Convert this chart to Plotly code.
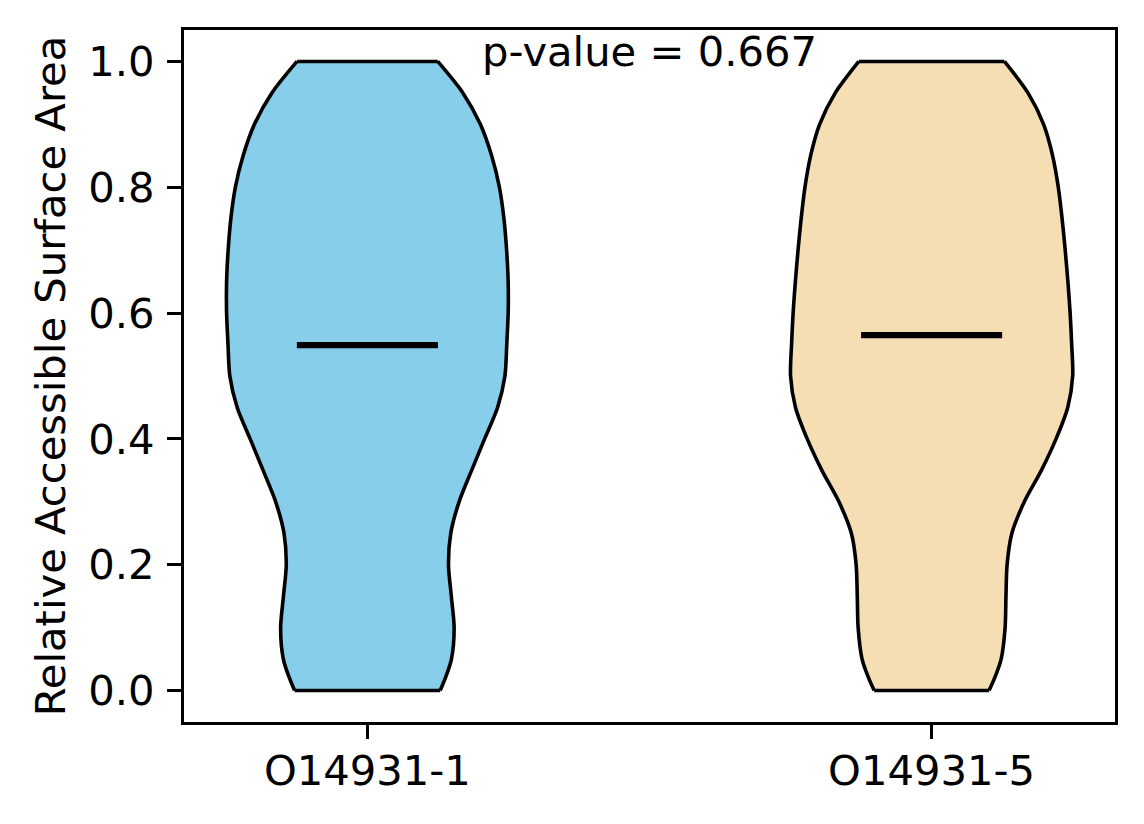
import plotly.graph_objects as go

# ---- data ----
categories = ["O14931-1", "O14931-5"]
positions = [1, 2]
medians = [0.549, 0.565]
p_value_text = "p-value = 0.667"

# y levels at which the violin density profile was read
levels = [0.00, 0.02, 0.05, 0.10, 0.15, 0.20, 0.25, 0.30, 0.35, 0.40, 0.45,
          0.50, 0.55, 0.60, 0.65, 0.70, 0.75, 0.80, 0.85, 0.90, 0.95, 1.00]
# relative density (max = 1) for each violin
density_1 = [0.516, 0.553, 0.596, 0.615, 0.595, 0.575, 0.591, 0.650, 0.739, 0.831, 0.923,
             0.975, 0.988, 0.998, 0.998, 0.987, 0.968, 0.936, 0.881, 0.801, 0.677, 0.499]
density_2 = [0.407, 0.447, 0.493, 0.521, 0.527, 0.535, 0.569, 0.657, 0.778, 0.882, 0.965,
             1.000, 0.993, 0.982, 0.966, 0.947, 0.925, 0.898, 0.858, 0.794, 0.683, 0.516]
densities = [density_1, density_2]
fill_colors = ["#87CEEB", "#F5DEB3"]

# ---- styling ----
HALF_WIDTH = 0.25      # max half-width of a violin (x data units)
FONT = "DejaVu Sans"
FS = 41.7
LW = 3.6
PAGE_MARGIN = 8        # browser default body margin

fig = go.Figure()

for pos, dens, col in zip(positions, densities, fill_colors):
    left = [pos - d * HALF_WIDTH for d in dens]
    right = [pos + d * HALF_WIDTH for d in dens]
    edge_line = dict(color="black", width=LW, shape="spline", smoothing=0.8)
    fig.add_trace(go.Scatter(
        x=left, y=levels, mode="lines", line=edge_line,
        hoverinfo="skip", showlegend=False,
    ))
    fig.add_trace(go.Scatter(
        x=right, y=levels, mode="lines", line=edge_line,
        fill="tonextx", fillcolor=col,
        hoverinfo="skip", showlegend=False,
    ))
    # flat caps at the data extremes
    for i in (0, -1):
        fig.add_trace(go.Scatter(
            x=[left[i], right[i]], y=[levels[i], levels[i]], mode="lines",
            line=dict(color="black", width=LW),
            hoverinfo="skip", showlegend=False,
        ))

for pos, med in zip(positions, medians):
    fig.add_trace(go.Scatter(
        x=[pos - HALF_WIDTH / 2, pos + HALF_WIDTH / 2], y=[med, med],
        mode="lines", line=dict(color="black", width=6.2),
        hoverinfo="skip", showlegend=False,
    ))

fig.add_annotation(
    x=1.5, y=1.016, xref="x", yref="y", text=p_value_text, showarrow=False,
    xanchor="center", yanchor="middle", font=dict(family=FONT, size=FS, color="black"),
)

axis_common = dict(
    showgrid=False, zeroline=False, showline=True, linecolor="black", linewidth=3.2,
    mirror=True, ticks="outside", ticklen=14, tickwidth=3.2, tickcolor="black",
    tickfont=dict(family=FONT, size=FS, color="black"), automargin=False,
)

fig.update_xaxes(
    range=[0.675, 2.325], tickmode="array", tickvals=positions, ticktext=categories,
    ticklabelstandoff=-4, **axis_common,
)
fig.update_yaxes(
    range=[-0.05, 1.05], tickmode="array", tickvals=[0.0, 0.2, 0.4, 0.6, 0.8, 1.0],
    ticktext=["0.0", "0.2", "0.4", "0.6", "0.8", "1.0"], ticklabelstandoff=4,
    title=dict(text="Relative Accessible Surface Area", font=dict(family=FONT, size=FS, color="black"),
               standoff=10),
    **axis_common,
)

fig.update_layout(
    width=1144 - PAGE_MARGIN, height=824 - PAGE_MARGIN,
    margin=dict(l=184 - PAGE_MARGIN, r=29, t=30 - PAGE_MARGIN, b=102, pad=0),
    plot_bgcolor="white", paper_bgcolor="white",
    font=dict(family=FONT, size=FS, color="black"),
)

fig.write_html("out.html")
